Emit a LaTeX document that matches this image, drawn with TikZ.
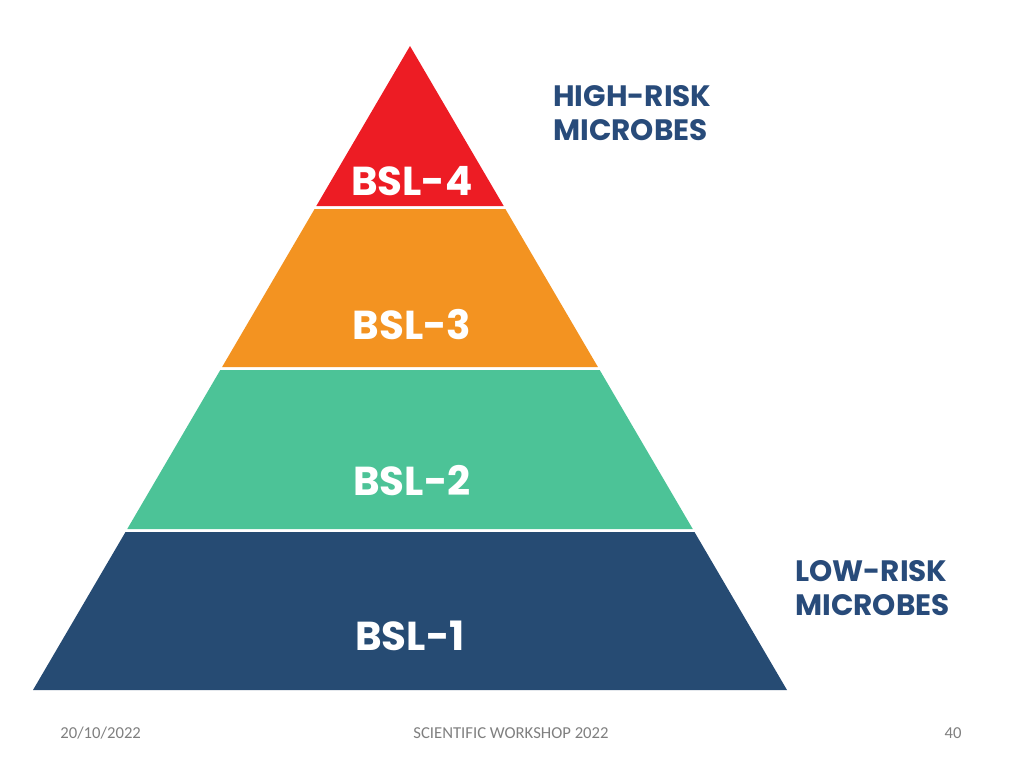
\documentclass[tikz,border=0pt]{standalone}
\usepackage{fontspec}
\setmainfont{Poppins}
\newfontfamily\footfont{Carlito}
\usetikzlibrary{positioning}

\definecolor{bslred}{HTML}{ED1C24}
\definecolor{bslorange}{HTML}{F39321}
\definecolor{bslgreen}{HTML}{4CC397}
\definecolor{bslnavy}{HTML}{264B73}
\definecolor{risktext}{HTML}{284B7A}
\definecolor{footgray}{HTML}{7F7F7F}

\begin{document}
\begin{tikzpicture}[
  x=0.02cm, y=-0.02cm,
  level/.style={font=\fontsize{23}{26}\selectfont\bfseries, text=white, inner sep=0pt},
  risk/.style={font=\fontsize{16.8}{19}\selectfont\bfseries, text=risktext, align=left, inner sep=0pt},
  foot/.style={font=\footfont\fontsize{9.5}{11}\selectfont, text=footgray, inner sep=0pt},
]
\useasboundingbox (0,0) rectangle (1024,768);

% pyramid layers
\fill[bslred] (410,46) -- (503.7,206) -- (316.3,206) -- cycle;
\fill[bslorange] (314.6,209) -- (505.4,209) -- (597.9,367) -- (222.1,367) -- cycle;
\fill[bslgreen] (220.3,370) -- (599.7,370) -- (692.75,529) -- (127.25,529) -- cycle;
\fill[bslnavy] (125.5,532) -- (694.5,532) -- (787,690) -- (33,690) -- cycle;

\node[level] (bsl4) at (412,181) {BSL-4};
\node[level] (bsl3) at (412,325) {BSL-3};
\node[level] (bsl2) at (412,481) {BSL-2};
\node[level] (bsl1) at (410,636) {BSL-1};

\node[risk, anchor=west] (high) at (553,113) {HIGH-RISK\\MICROBES};
\node[risk, anchor=west] (low) at (795,588) {LOW-RISK\\MICROBES};

% footer
\node[foot, anchor=west] (date) at (60,733) {20/10/2022};
\node[foot] (event) at (511,733) {SCIENTIFIC WORKSHOP 2022};
\node[foot, anchor=east] (page) at (962,733) {40};
\end{tikzpicture}
\end{document}
